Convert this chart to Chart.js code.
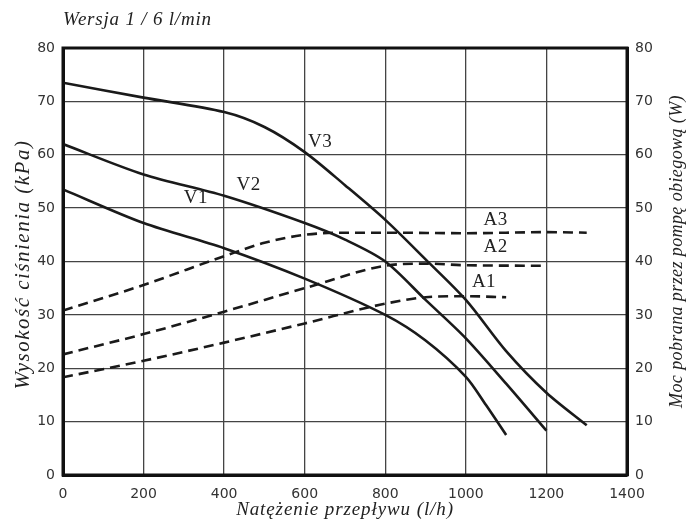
<!DOCTYPE html>
<html>
<head>
<meta charset="utf-8">
<script src="https://cdn.jsdelivr.net/npm/chart.js@4"></script>
<style>
  html, body { margin: 0; padding: 0; background: #fff; }
  #wrap { width: 688px; height: 526px; }
</style>
</head>
<body>
<div id="wrap"><canvas id="chart"></canvas></div>
<script>
// krzywe pomp (kPa)
const flowV1 = [0, 200, 400, 600, 800, 900, 1000, 1050, 1100];
const headV1 = [53.5, 47.2, 42.5, 36.8, 30, 25.2, 18.4, 13.1, 7.5];
const flowV2 = [0, 200, 400, 600, 700, 800, 900, 1000, 1100, 1200];
const headV2 = [62, 56.3, 52.3, 47.2, 44.1, 40, 32.8, 25.6, 17.1, 8.3];
const flowV3 = [0, 200, 400, 500, 600, 700, 800, 900, 1000, 1100, 1200, 1300];
const headV3 = [73.5, 70.7, 68, 65.2, 60.5, 54.3, 47.8, 40.4, 32.8, 23.2, 15.4, 9.3];
// moc pobrana (W)
const flowA1 = [0, 200, 400, 600, 800, 900, 1000, 1100];
const powerA1 = [18.3, 21.4, 24.8, 28.4, 32.1, 33.3, 33.5, 33.3];
const flowA2 = [0, 200, 400, 600, 800, 900, 1000, 1200];
const powerA2 = [22.6, 26.4, 30.6, 35, 39.2, 39.6, 39.3, 39.2];
const flowA3 = [0, 200, 400, 500, 600, 700, 800, 1000, 1200, 1300];
const powerA3 = [30.8, 35.6, 41, 43.5, 45, 45.4, 45.4, 45.3, 45.5, 45.4];

// opisy krzywych
const curveNames = ["V1", "V2", "V3", "A1", "A2", "A3"];
const nameX = [330, 461, 638, 1045, 1074, 1074];
const nameY = [51.9, 54.3, 62.4, 36.2, 42.8, 47.8];

const xTicks = [0, 200, 400, 600, 800, 1000, 1200, 1400];

function pts(xs, ys) {
  return xs.map(function (x, i) { return { x: x, y: ys[i] }; });
}

function curve(label, xs, ys, axis, dashed) {
  return {
    label: label,
    data: pts(xs, ys),
    yAxisID: axis,
    borderColor: "#1a1a1a",
    borderWidth: 2.6,
    borderDash: dashed ? [10, 6] : [],
    pointRadius: 0,
    tension: dashed ? 0.4 : 0.3,
    cubicInterpolationMode: dashed ? "monotone" : "default",
    fill: false,
  };
}

const serif = "'Liberation Serif', 'DejaVu Serif', serif";
const sans = "'DejaVu Sans', sans-serif";

function text(c, str, x, y, font, spacing, angle) {
  c.save();
  c.font = font;
  c.letterSpacing = spacing + "px";
  c.translate(x, y);
  if (angle) c.rotate(angle);
  c.fillText(str, 0, 0);
  c.restore();
}

const extras = {
  id: "extras",
  afterDraw: function (chart) {
    const c = chart.ctx;
    const a = chart.chartArea;
    const sx = chart.scales.x;
    const sy = chart.scales.y;
    const midY = (a.top + a.bottom) / 2;
    c.save();
    c.fillStyle = "#222";
    // ramka
    c.strokeStyle = "#111";
    c.lineWidth = 3;
    c.strokeRect(a.left, a.top, a.right - a.left, a.bottom - a.top);
    // tytuł
    c.textAlign = "left";
    c.textBaseline = "alphabetic";
    text(c, "Wersja 1 / 6 l/min", a.left, 25, "italic 19px " + serif, 0.8);
    // opisy osi
    c.textAlign = "center";
    c.textBaseline = "middle";
    text(c, "Natężenie przepływu (l/h)", (a.left + a.right) / 2, 510, "italic 19px " + serif, 0.9);
    text(c, "Wysokość ciśnienia (kPa)", 23, midY + 3, "italic 21px " + serif, 1.5, -Math.PI / 2);
    text(c, "Moc pobrana przez pompę obiegową (W)", 677, midY - 10, "italic 18px " + serif, 0.4, -Math.PI / 2);
    // opisy krzywych
    for (let i = 0; i < curveNames.length; i++) {
      text(c, curveNames[i], sx.getPixelForValue(nameX[i]), sy.getPixelForValue(nameY[i]), "19px " + serif, 0.5);
    }
    c.restore();
  },
};

const tickFont = { family: sans, size: 14 };

new Chart(document.getElementById("chart"), {
  type: "line",
  data: {
    datasets: [
      curve("V1", flowV1, headV1, "y", false),
      curve("V2", flowV2, headV2, "y", false),
      curve("V3", flowV3, headV3, "y", false),
      curve("A1", flowA1, powerA1, "y2", true),
      curve("A2", flowA2, powerA2, "y2", true),
      curve("A3", flowA3, powerA3, "y2", true),
    ],
  },
  options: {
    responsive: true,
    maintainAspectRatio: false,
    animation: false,
    layout: { padding: { top: 48, left: 0, right: 0, bottom: 0 } },
    plugins: {
      legend: { display: false },
      tooltip: { enabled: false },
    },
    scales: {
      x: {
        type: "linear",
        min: 0,
        max: 1400,
        afterBuildTicks: function (s) {
          s.ticks = xTicks.map(function (v) { return { value: v }; });
        },
        afterFit: function (s) { s.height = 51; },
        grid: { color: "#444", lineWidth: 1.3, drawTicks: false },
        border: { color: "#111", width: 3 },
        ticks: {
          color: "#333",
          padding: 11,
          maxRotation: 0,
          font: tickFont,
          callback: function (v) { return String(v); },
        },
      },
      y: {
        position: "left",
        min: 0,
        max: 80,
        afterFit: function (s) { s.width = 63; },
        grid: { color: "#444", lineWidth: 1.3, drawTicks: false },
        border: { color: "#111", width: 3 },
        ticks: { stepSize: 10, color: "#333", padding: 8, font: tickFont },
      },
      y2: {
        position: "right",
        min: 0,
        max: 80,
        afterFit: function (s) { s.width = 61; },
        grid: { drawOnChartArea: false, drawTicks: false },
        border: { color: "#111", width: 3 },
        ticks: { stepSize: 10, color: "#333", padding: 8, font: tickFont },
      },
    },
  },
  plugins: [extras],
});
</script>
</body>
</html>
